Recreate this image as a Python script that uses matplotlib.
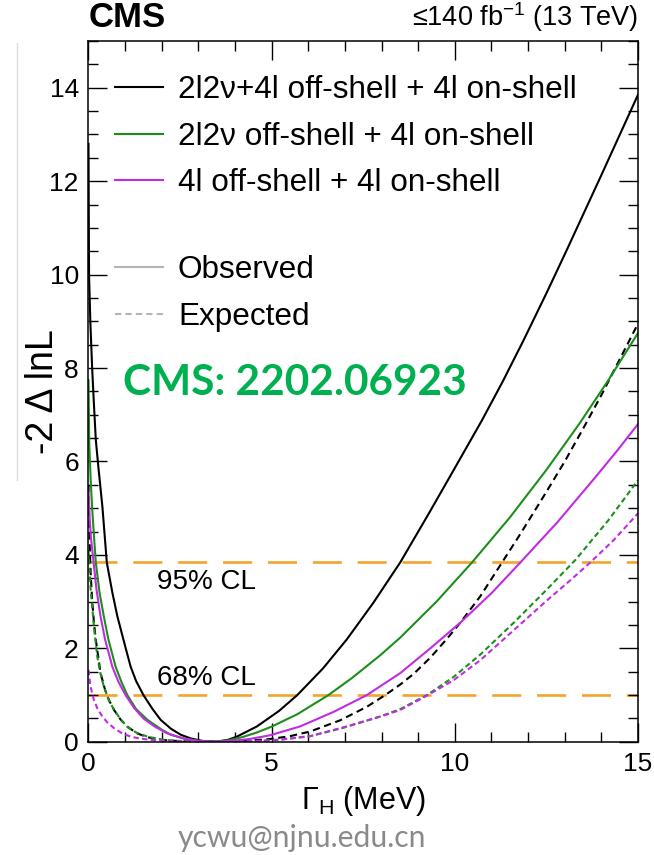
import matplotlib
matplotlib.use("Agg")
import matplotlib.pyplot as plt
from matplotlib.lines import Line2D
from matplotlib.ticker import MultipleLocator

plt.rcParams['font.family'] = ['Liberation Sans', 'DejaVu Sans']
plt.rcParams['mathtext.fontset'] = 'custom'
plt.rcParams['mathtext.rm'] = 'Liberation Sans'
plt.rcParams['mathtext.it'] = 'Liberation Sans:italic'

# -2 Delta lnL scans versus Higgs width (MeV)
# 2l2nu + 4l off-shell + 4l on-shell
gam_comb_obs = [0, 0.015, 0.05, 0.1, 0.15, 0.2, 0.27, 0.38, 0.5, 0.65, 0.79, 1.0, 1.15, 1.3,
                1.5, 1.75, 1.97, 2.25, 2.52, 2.8, 3.1, 3.46, 3.8, 4.05, 4.6, 5.2, 5.7, 6.4,
                7.05, 7.78, 8.51, 9.3, 10.0, 10.74, 11.3, 11.88, 12.5, 13.07, 14.0, 15.0]
nll_comb_obs = [12.8, 10.0, 9.0, 8.0, 7.2, 6.46, 5.88, 5.03, 3.84, 3.2, 2.68, 2.05, 1.61, 1.3,
                1.0, 0.7, 0.47, 0.28, 0.15, 0.07, 0.02, 0.0, 0.04, 0.11, 0.33, 0.66, 1.0, 1.57,
                2.19, 2.98, 3.84, 4.9, 5.86, 6.88, 7.7, 8.6, 9.6, 10.55, 12.13, 13.85]
gam_comb_exp = [0, 0.03, 0.06, 0.1, 0.15, 0.2, 0.33, 0.45, 0.56, 0.7, 0.88, 1.1, 1.33, 1.6,
                1.97, 2.6, 3.5, 4.3, 4.96, 5.5, 6.05, 6.87, 7.6, 8.1, 8.5, 8.87, 9.33, 9.78,
                10.15, 10.7, 11.29, 11.79, 12.5, 13.0, 13.5, 14.0, 15.0]
nll_comb_exp = [5.5, 4.3, 3.6, 3.03, 2.55, 2.18, 1.47, 1.12, 0.89, 0.68, 0.47, 0.3, 0.18, 0.1,
                0.04, 0.01, 0.0, 0.02, 0.06, 0.12, 0.22, 0.46, 0.75, 1.0, 1.22, 1.45, 1.8, 2.2,
                2.55, 3.12, 3.84, 4.45, 5.35, 6.0, 6.7, 7.42, 8.95]

# 2l2nu off-shell + 4l on-shell
gam_2l2nu_obs = [0, 0.02, 0.06, 0.1, 0.15, 0.2, 0.3, 0.42, 0.54, 0.74, 0.9, 1.06, 1.3, 1.61,
                 2.0, 2.25, 2.6, 3.0, 3.4, 3.8, 4.2, 4.6, 5.0, 5.7, 6.55, 7.2, 7.96, 8.51, 9.5,
                 10.47, 11.5, 12.5, 13.41, 14.2, 15.0]
nll_2l2nu_obs = [7.74, 6.4, 5.6, 5.0, 4.4, 3.84, 3.2, 2.68, 2.2, 1.61, 1.28, 1.0, 0.7, 0.47,
                 0.26, 0.15, 0.07, 0.02, 0.0, 0.03, 0.1, 0.2, 0.325, 0.59, 1.0, 1.37, 1.85, 2.23,
                 3.0, 3.84, 4.8, 5.82, 6.82, 7.75, 8.75]
gam_2l2nu_exp = [0, 0.06, 0.15, 0.24, 0.33, 0.42, 0.55, 0.7, 0.88, 1.06, 1.3, 1.61, 2.0, 2.4,
                 3.5, 4.5, 5.3, 6.05, 6.96, 7.96, 8.51, 9.24, 9.97, 10.7, 11.61, 12.5, 13.3,
                 14.2, 15.0]
nll_2l2nu_exp = [4.1, 3.25, 2.46, 1.82, 1.45, 1.18, 0.9, 0.68, 0.48, 0.32, 0.2, 0.11, 0.05,
                 0.02, 0.0, 0.01, 0.05, 0.12, 0.3, 0.54, 0.7, 1.0, 1.39, 1.87, 2.55, 3.25, 3.9,
                 4.75, 5.6]

# 4l off-shell + 4l on-shell
gam_4l_obs = [0, 0.03, 0.07, 0.14, 0.22, 0.33, 0.45, 0.65, 0.82, 1.02, 1.25, 1.5, 1.8, 2.15,
              2.6, 3.0, 3.4, 3.9, 4.4, 4.96, 5.78, 6.69, 7.6, 8.51, 9.3, 10.15, 11.0, 11.79,
              12.8, 13.79, 14.4, 15.0]
nll_4l_obs = [5.4, 4.8, 4.35, 3.84, 3.25, 2.68, 2.2, 1.61, 1.28, 0.99, 0.72, 0.5, 0.33, 0.18,
              0.07, 0.02, 0.0, 0.02, 0.06, 0.14, 0.33, 0.64, 1.0, 1.47, 1.98, 2.55, 3.18, 3.84,
              4.7, 5.62, 6.2, 6.8]
gam_4l_exp = [0, 0.05, 0.15, 0.25, 0.38, 0.52, 0.7, 0.9, 1.15, 1.4, 1.7, 2.1, 2.5, 3.5, 4.3,
              5.0, 6.05, 6.96, 7.96, 8.51, 9.24, 9.97, 10.7, 11.61, 12.52, 13.1, 13.7, 14.34,
              15.0]
nll_4l_exp = [1.54, 1.2, 0.89, 0.7, 0.54, 0.41, 0.29, 0.19, 0.11, 0.07, 0.04, 0.02, 0.01, 0.0,
              0.01, 0.03, 0.12, 0.31, 0.54, 0.68, 0.99, 1.32, 1.75, 2.39, 3.03, 3.42, 3.84,
              4.32, 4.89]

cl_levels = [3.84, 1.0]
cl_labels = ["95% CL", "68% CL"]
cl_label_y = [3.42, 1.36]

c_black = "black"
c_green = "#1b8f1b"
c_magenta = "#c02be3"
c_orange = "#f4a42c"

fig = plt.figure(figsize=(6.54, 8.55), dpi=100)
ax = fig.add_axes([0.1353, 0.1324, 0.8402, 0.8196])

for lev in cl_levels:
    ax.axhline(lev, color=c_orange, lw=1.9, dashes=(11, 6), zorder=1)
for lab, ly in zip(cl_labels, cl_label_y):
    ax.text(1.87, ly, lab, fontsize=20, va="center", ha="left")

dash_k = (0, (3.5, 2.2))
dash_c = (0, (2.6, 1.6))
ax.plot(gam_comb_exp, nll_comb_exp, color=c_black, ls=dash_k, lw=1.5)
ax.plot(gam_2l2nu_exp, nll_2l2nu_exp, color=c_green, ls=dash_c, lw=1.5)
ax.plot(gam_4l_exp, nll_4l_exp, color=c_magenta, ls=dash_c, lw=1.5)
h1, = ax.plot(gam_comb_obs, nll_comb_obs, color=c_black, lw=1.5)
h2, = ax.plot(gam_2l2nu_obs, nll_2l2nu_obs, color=c_green, lw=1.5)
h3, = ax.plot(gam_4l_obs, nll_4l_obs, color=c_magenta, lw=1.5)

ax.set_xlim(0, 15)
ax.set_ylim(0, 15)
ax.xaxis.set_major_locator(MultipleLocator(5))
ax.xaxis.set_minor_locator(MultipleLocator(1))
ax.yaxis.set_major_locator(MultipleLocator(2))
ax.yaxis.set_minor_locator(MultipleLocator(0.5))
ax.tick_params(which="both", direction="in", top=True, right=True, width=1.0, labelsize=19)
ax.tick_params(which="major", length=14, pad=7)
ax.tick_params(which="minor", length=7)
for sp in ax.spines.values():
    sp.set_linewidth(1.1)

ax.set_xlabel(r"$\Gamma_{\mathrm{H}}$ (MeV)", fontsize=22, labelpad=6)
ax.set_ylabel("-2 \u0394 lnL", fontsize=27)
ax.yaxis.set_label_coords(-0.05, 0.5)

leg1 = ax.legend([h1, h2, h3],
                 ["2l2\u03bd+4l off-shell + 4l on-shell",
                  "2l2\u03bd off-shell + 4l on-shell",
                  "4l off-shell + 4l on-shell"],
                 loc="upper left", bbox_to_anchor=(0.048, 0.951), frameon=False,
                 fontsize=22.7, handlelength=1.52, handletextpad=0.48, labelspacing=0.52,
                 borderpad=0, borderaxespad=0)
ax.add_artist(leg1)
g_obs = Line2D([], [], color="#b4b4b4", lw=1.5)
g_exp = Line2D([], [], color="#b4b4b4", lw=1.5, ls=(0, (3, 2)))
ax.legend([g_obs, g_exp], ["Observed", "Expected"], loc="upper left",
          bbox_to_anchor=(0.048, 0.695), frameon=False, fontsize=22.7, handlelength=1.52,
          handletextpad=0.48, labelspacing=0.56, borderpad=0, borderaxespad=0)

ax.text(0.063, 0.512, "CMS: 2202.06923", transform=ax.transAxes, fontsize=30.5,
        fontweight="bold", family="Lato", color="#00b050", va="center", ha="left")

ax.text(0.0, 1.01, "CMS", transform=ax.transAxes, fontsize=25, fontweight="bold",
        va="bottom", ha="left")
ax.text(1.0, 1.01, "\u2264140 fb$^{-1}$ (13 TeV)", transform=ax.transAxes, fontsize=19.5,
        va="bottom", ha="right")

fig.text(0.461, 0.02, "ycwu@njnu.edu.cn", fontsize=21.7, family="Lato", color="#8a8a8a",
         ha="center", va="center")
fig.add_artist(Line2D([17 / 654, 17 / 654], [1 - 43 / 855, 1 - 480 / 855],
                      color="#dcdcdc", lw=1.0))

fig.savefig("out.png", dpi=100)
